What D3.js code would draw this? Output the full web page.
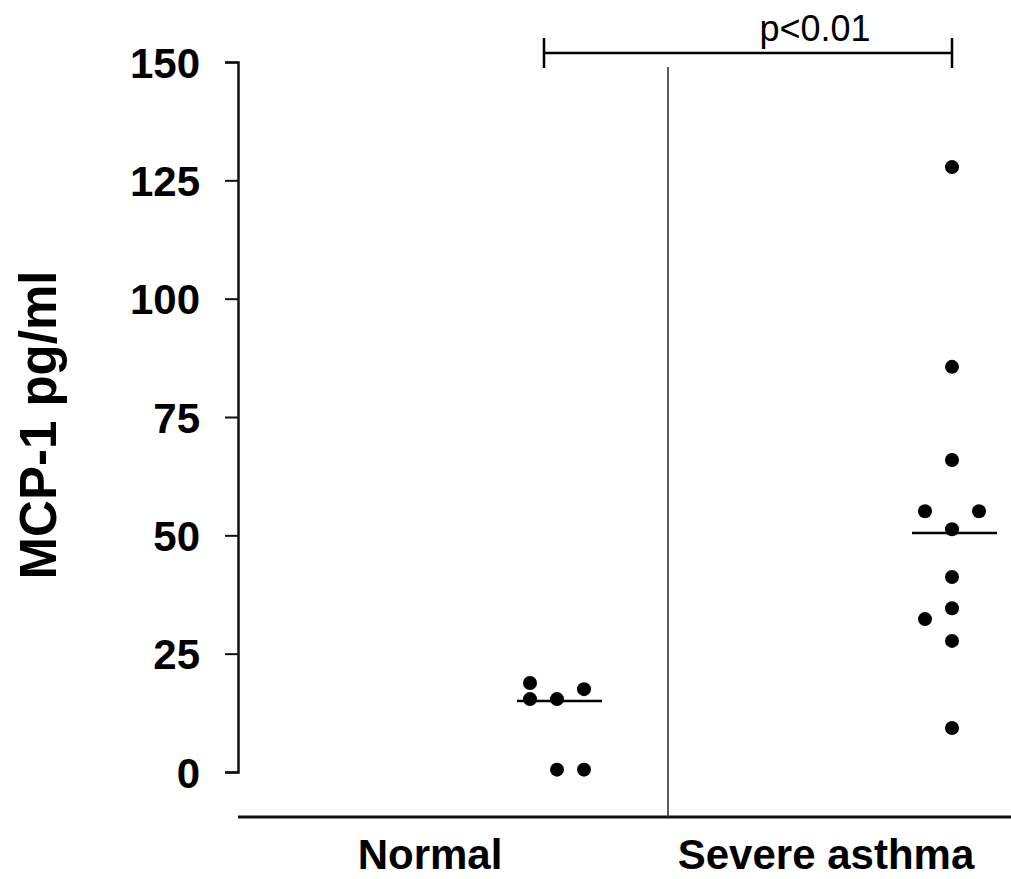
<!DOCTYPE html>
<html>
<head>
<meta charset="utf-8">
<script src="https://cdn.jsdelivr.net/npm/d3@7"></script>
<style>
  html, body { margin: 0; padding: 0; background: #fff; }
  svg { display: block; }
  text { font-family: "Liberation Sans", Arial, Helvetica, sans-serif; }
</style>
</head>
<body>
<div id="chart"></div>
<script>
// ── data ───────────────────────────────────────────
const groups = ["Normal", "Severe asthma"];
const yTicks = [0, 25, 50, 75, 100, 125, 150];

// values in pg/ml, with the swarm column each dot sits in (-1 left, 0 centre, 1 right)
const normalValues  = [18.8, 15.4, 15.4, 17.5, 0.5, 0.5];
const normalColumns = [-1, -1, 0, 1, 0, 1];
const severeValues  = [127.8, 85.6, 65.9, 55.1, 55.1, 51.3, 41.2, 34.6, 32.3, 27.7, 9.3];
const severeColumns = [0, 0, 0, -1, 1, 0, 0, 0, -1, 0, 0];
const medians = [15.0, 50.5];
const pLabel = "p<0.01";

// ── layout ─────────────────────────────────────────
const W = 1011, H = 879;
const axisX = 238, baseY = 817;

const svg = d3.select("#chart").append("svg")
    .attr("width", W).attr("height", H);

const y = d3.scaleLinear().domain([0, 150]).range([772, 62]);
// group index -> centre of the dot column
const x = d3.scaleLinear().domain([0, 1]).range([557, 952]);
const colStep = 27;

// category labels sit in their own band
const xLab = d3.scalePoint().domain(groups).range([430, 826]);

// ── y axis ─────────────────────────────────────────
const yAxis = svg.append("g")
    .attr("transform", `translate(${axisX},0)`)
    .call(d3.axisLeft(y).tickValues(yTicks).tickSize(13).tickSizeOuter(13).tickPadding(25));
yAxis.select(".domain").attr("stroke", "#111").attr("stroke-width", 2.5);
yAxis.selectAll(".tick line").attr("stroke", "#111").attr("stroke-width", 2);
yAxis.selectAll(".tick text")
    .attr("fill", "#000")
    .style("font-size", "42px")
    .style("font-weight", "bold")
    .attr("dy", "0.36em");

svg.append("text")
    .attr("transform", `translate(56,${(y(0) + y(150)) / 2 + 8}) rotate(-90)`)
    .attr("text-anchor", "middle")
    .style("font-size", "51px")
    .style("font-weight", "bold")
    .text("MCP-1 pg/ml");

// ── x axis line + divider ──────────────────────────
svg.append("line")
    .attr("x1", axisX).attr("x2", W)
    .attr("y1", baseY).attr("y2", baseY)
    .attr("stroke", "#111").attr("stroke-width", 3);

svg.append("line")
    .attr("x1", 668).attr("x2", 668)
    .attr("y1", 67).attr("y2", baseY)
    .attr("stroke", "#333").attr("stroke-width", 1.6);

svg.selectAll(".xlab")
    .data(groups)
    .join("text")
    .attr("class", "xlab")
    .attr("x", d => xLab(d))
    .attr("y", 869)
    .attr("text-anchor", "middle")
    .style("font-size", "42px")
    .style("font-weight", "bold")
    .text(d => d);

// ── dots ───────────────────────────────────────────
const dots = [
    ...normalValues.map((v, i) => ({ g: 0, v, c: normalColumns[i] })),
    ...severeValues.map((v, i) => ({ g: 1, v, c: severeColumns[i] })),
];

svg.selectAll(".dot")
    .data(dots)
    .join("circle")
    .attr("class", "dot")
    .attr("cx", d => x(d.g) + d.c * colStep)
    .attr("cy", d => y(d.v))
    .attr("r", 7)
    .attr("fill", "#000");

// median bars
svg.selectAll(".median")
    .data(medians)
    .join("line")
    .attr("class", "median")
    .attr("x1", (d, i) => x(i) - 40)
    .attr("x2", (d, i) => x(i) + 45)
    .attr("y1", d => y(d)).attr("y2", d => y(d))
    .attr("stroke", "#000").attr("stroke-width", 2.5);

// ── significance bracket ───────────────────────────
const bx1 = x(0) - 13, bx2 = x(1), by = y(150) - 9;
const br = svg.append("g").attr("stroke", "#000").attr("stroke-width", 2.5);
br.append("line").attr("x1", bx1).attr("x2", bx2).attr("y1", by).attr("y2", by);
br.append("line").attr("x1", bx1).attr("x2", bx1).attr("y1", by - 15).attr("y2", by + 15);
br.append("line").attr("x1", bx2).attr("x2", bx2).attr("y1", by - 15).attr("y2", by + 15);

svg.append("text")
    .attr("x", 815)
    .attr("y", 41)
    .attr("text-anchor", "middle")
    .style("font-size", "36px")
    .text(pLabel);
</script>
</body>
</html>
